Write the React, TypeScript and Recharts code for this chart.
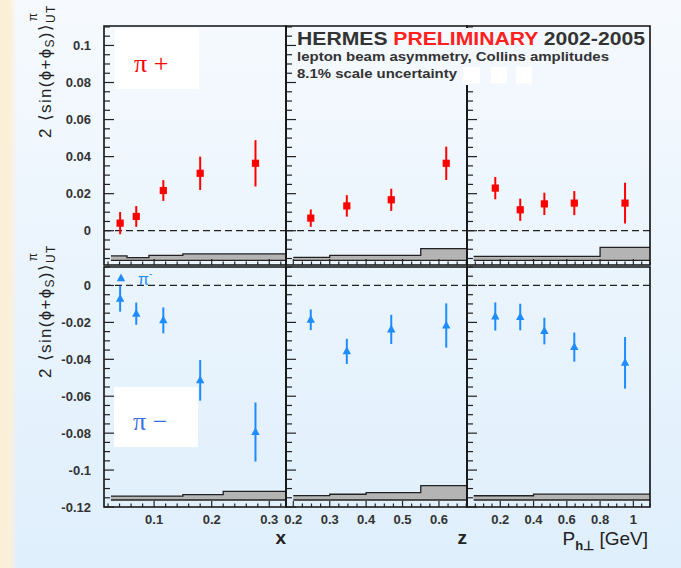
import React from 'react';
import { ComposedChart, Scatter, ErrorBar, Area, XAxis, YAxis, ReferenceLine, ReferenceArea } from 'recharts';

// bin centres
const xBins = [0.041, 0.069, 0.116, 0.18, 0.276];
const zBins = [0.248, 0.347, 0.469, 0.62];
const pBins = [0.17, 0.32, 0.465, 0.645, 0.95];

// pi+ amplitudes
const plusX = [0.0041, 0.0077, 0.0217, 0.031, 0.0364];
const plusXErr = [0.006, 0.0056, 0.0056, 0.009, 0.0125];
const plusZ = [0.0068, 0.0134, 0.0167, 0.0364];
const plusZErr = [0.0047, 0.0058, 0.006, 0.009];
const plusP = [0.023, 0.0113, 0.0145, 0.0149, 0.0149];
const plusPErr = [0.006, 0.006, 0.006, 0.0065, 0.011];

// pi- amplitudes
const minusX = [-0.0072, -0.0153, -0.0189, -0.0514, -0.0794];
const minusXErr = [0.007, 0.006, 0.007, 0.011, 0.016];
const minusZ = [-0.0186, -0.0357, -0.0238, -0.0217];
const minusZErr = [0.0056, 0.0068, 0.0079, 0.012];
const minusP = [-0.0168, -0.0171, -0.0247, -0.0334, -0.0419];
const minusPErr = [0.0076, 0.0072, 0.0072, 0.0079, 0.014];

// systematic bands (bin edges + band tops, drawn up from a base level)
const xEdges = [0.025, 0.053, 0.091, 0.15, 0.22, 0.329];
const zEdges = [0.2, 0.3, 0.4, 0.55, 0.677];
const pEdges = [0.04, 0.4, 0.8, 1.1];
const sysPlusX = [-0.0136, -0.0145, -0.0133, -0.0125, -0.0125];
const sysPlusZ = [-0.0144, -0.0133, -0.0133, -0.0097];
const sysPlusP = [-0.0138, -0.0138, -0.009];
const sysMinusX = [-0.1141, -0.1141, -0.1141, -0.1133, -0.1115];
const sysMinusZ = [-0.1138, -0.1131, -0.1122, -0.1084];
const sysMinusP = [-0.1139, -0.113, -0.113];
const basePlus = -0.016;
const baseMinus = -0.1162;

// axes
const xDomain = [0.013, 0.329];
const zDomain = [0.18, 0.677];
const pDomain = [0, 1.1];
const topDomain = [-0.0185, 0.1105];
const bottomDomain = [-0.12, 0.01];
const xMajor = [0.1, 0.2, 0.3];
const zMajor = [0.2, 0.3, 0.4, 0.5, 0.6];
const pMajor = [0.2, 0.4, 0.6, 0.8, 1];
const topMajor = [0, 0.02, 0.04, 0.06, 0.08, 0.1];
const bottomMajor = [0, -0.02, -0.04, -0.06, -0.08, -0.1, -0.12];

const steps = (from: number, to: number, step: number) => {
  const out: number[] = [];
  for (let v = from; v <= to + 1e-9; v += step) out.push(Number(v.toFixed(4)));
  return out;
};
const xTicks = steps(0.02, 0.32, 0.02);
const zTicks = steps(0.2, 0.675, 0.025);
const pTicks = steps(0.05, 1.1, 0.05);
const topTicks = steps(-0.015, 0.11, 0.005);
const bottomTicks = steps(-0.12, 0.01, 0.005);

const RED = '#ff0000';
const BLUE = '#1e8cff';
const INK = '#222';
const LABEL = '#333';
const FONT = '"Liberation Sans", Arial, sans-serif';

const isMajor = (v: number, majors: number[]) => majors.some(m => Math.abs(m - v) < 1e-6);
const fmt = (v: number) => String(Number(v.toFixed(3)));

const points = (bins: number[], vals: number[], errs: number[]) =>
  bins.map((v, i) => ({ v, y: vals[i], err: errs[i] }));
const band = (edges: number[], tops: number[], base: number) =>
  edges.map((v, i) => ({ v, band: [base, tops[Math.min(i, tops.length - 1)]] }));

const Square = (p: any) => <rect x={p.cx - 3.6} y={p.cy - 3.6} width={7.2} height={7.2} fill={RED} />;
const Triangle = (p: any) => (
  <polygon points={`${p.cx},${p.cy - 4.8} ${p.cx - 4.2},${p.cy + 3} ${p.cx + 4.2},${p.cy + 3}`} fill={BLUE} />
);

type PanelProps = {
  left: number; top: number; w: number; h: number;
  xDom: number[]; yDom: number[];
  xMaj: number[]; xAll: number[]; yMaj: number[]; yAll: number[];
  yLabels: boolean; xLabels: boolean;
  data: { v: number; y: number; err: number }[];
  sys: { v: number; band: number[] }[];
  color: string; plus: boolean;
};

const ML = 70, MT = 10, MR = 10, MB = 40;

function Panel(pp: PanelProps) {
  const yTick = (p: any) => {
    const v = p.payload.value;
    const maj = isMajor(v, pp.yMaj);
    return (
      <g>
        <line x1={p.x} x2={p.x + (maj ? 10 : 6)} y1={p.y} y2={p.y} stroke={INK} strokeWidth={1.2} />
        {pp.yLabels && maj && (
          <text x={p.x - 13} y={p.y} dy="0.36em" textAnchor="end" fontSize={13} fontWeight="bold" fill={LABEL} fontFamily={FONT}>
            {fmt(v)}
          </text>
        )}
      </g>
    );
  };
  const xTick = (p: any) => {
    const v = p.payload.value;
    const maj = isMajor(v, pp.xMaj);
    return (
      <g>
        <line x1={p.x} x2={p.x} y1={p.y} y2={p.y - (maj ? 6 : 3.5)} stroke={INK} strokeWidth={1.2} />
        {pp.xLabels && maj && (
          <text x={p.x} y={p.y + 17} textAnchor="middle" fontSize={13} fontWeight="bold" fill={LABEL} fontFamily={FONT}>
            {fmt(v)}
          </text>
        )}
      </g>
    );
  };
  return (
    <div style={{ position: 'absolute', left: pp.left - ML, top: pp.top - MT }}>
      <ComposedChart width={pp.w + ML + MR} height={pp.h + MT + MB} data={pp.sys} margin={{ top: MT, right: MR, bottom: MB - 1, left: ML - 1 }}>
        <XAxis type="number" dataKey="v" domain={pp.xDom} allowDataOverflow ticks={pp.xAll} interval={0} height={1}
          tickSize={0} tickMargin={0} tickLine={false} axisLine={false} tick={xTick} />
        <YAxis type="number" domain={pp.yDom} allowDataOverflow ticks={pp.yAll} interval={0} width={1}
          tickSize={0} tickMargin={0} tickLine={false} axisLine={false} tick={yTick} />
        <Area type="stepAfter" dataKey="band" fill="#b4b4b4" fillOpacity={1} stroke={INK} strokeWidth={1.3} isAnimationActive={false} dot={false} activeDot={false} />
        <ReferenceLine y={0} stroke={INK} strokeWidth={1.2} strokeDasharray="7 4" />
        <Scatter data={pp.data} dataKey="y" shape={pp.plus ? Square : Triangle} isAnimationActive={false}>
          <ErrorBar dataKey="err" direction="y" width={0} stroke={pp.color} strokeWidth={2} isAnimationActive={false} />
        </Scatter>
        <ReferenceArea x1={pp.xDom[0]} x2={pp.xDom[1]} y1={pp.yDom[0]} y2={pp.yDom[1]} fill="none" stroke="#111" strokeWidth={1.6} ifOverflow="visible" />
      </ComposedChart>
    </div>
  );
}

const cols = [
  { left: 104, w: 182, dom: xDomain, maj: xMajor, all: xTicks },
  { left: 286, w: 181, dom: zDomain, maj: zMajor, all: zTicks },
  { left: 467, w: 183, dom: pDomain, maj: pMajor, all: pTicks },
];

export default function App() {
  const topData = [points(xBins, plusX, plusXErr), points(zBins, plusZ, plusZErr), points(pBins, plusP, plusPErr)];
  const topSys = [band(xEdges, sysPlusX, basePlus), band(zEdges, sysPlusZ, basePlus), band(pEdges, sysPlusP, basePlus)];
  const botData = [points(xBins, minusX, minusXErr), points(zBins, minusZ, minusZErr), points(pBins, minusP, minusPErr)];
  const botSys = [band(xEdges, sysMinusX, baseMinus), band(zEdges, sysMinusZ, baseMinus), band(pEdges, sysMinusP, baseMinus)];

  const yTitle = (x: number, y: number) => (
    <text transform={`rotate(-90 ${x} ${y})`} x={x} y={y} fontSize={17} fill={INK} fontFamily={FONT} letterSpacing={1.3}>
      2 ⟨sin(ϕ+ϕ<tspan fontSize={12} dy={3}>S</tspan>
      <tspan dy={-3}>)⟩</tspan>
      <tspan fontSize={12} dy={4}>UT</tspan>
      <tspan fontSize={12} dx={-17} dy={-18}>π</tspan>
    </text>
  );

  return (
    <div style={{
      position: 'absolute', left: 0, top: 0, width: 681, height: 568, overflow: 'hidden', fontFamily: FONT,
      background: 'linear-gradient(to right, #fcefd6 0px, #fcf0da 10px, rgba(252,240,218,0) 17px), linear-gradient(to bottom, #f6fafe 0%, #eaf4fd 50%, #dfeffc 100%)',
    }}>
      {cols.map((c, i) => (
        <Panel key={`t${i}`} left={c.left} top={26} w={c.w} h={239} xDom={c.dom} yDom={topDomain}
          xMaj={c.maj} xAll={c.all} yMaj={topMajor} yAll={topTicks} yLabels={i === 0} xLabels={false}
          data={topData[i]} sys={topSys[i]} color={RED} plus />
      ))}
      {cols.map((c, i) => (
        <Panel key={`b${i}`} left={c.left} top={267} w={c.w} h={240} xDom={c.dom} yDom={bottomDomain}
          xMaj={c.maj} xAll={c.all} yMaj={bottomMajor} yAll={bottomTicks} yLabels={i === 0} xLabels
          data={botData[i]} sys={botSys[i]} color={BLUE} plus={false} />
      ))}
      <div style={{ position: 'absolute', left: 459, top: 27.5, width: 189.5, height: 57, background: '#f3f8fe' }} />
      <svg width={681} height={568} style={{ position: 'absolute', left: 0, top: 0 }}>
        <rect x={463} y={67} width={17} height={16.5} fill="#fff" />
        <rect x={491} y={67} width={16} height={16.5} fill="#fff" />
        <rect x={516} y={67} width={16} height={16.5} fill="#fff" />
        <text x={297} y={45} fontSize={18.5} fontWeight="bold" fill={LABEL} fontFamily={FONT} textLength={348} lengthAdjust="spacingAndGlyphs">
          HERMES <tspan fill="#ff2020">PRELIMINARY</tspan> 2002-2005
        </text>
        <text x={297} y={61} fontSize={12.5} fontWeight="bold" fill={LABEL} fontFamily={FONT} textLength={312} lengthAdjust="spacingAndGlyphs">
          lepton beam asymmetry, Collins amplitudes
        </text>
        <text x={297} y={78} fontSize={12.5} fontWeight="bold" fill={LABEL} fontFamily={FONT} textLength={160} lengthAdjust="spacingAndGlyphs">
          8.1% scale uncertainty
        </text>

        <rect x={115} y={29} width={84} height={60} fill="#fff" />
        <text x={134} y={72} fontSize={26} fill={RED} fontFamily='"Liberation Serif", serif'>π +</text>
        <rect x={114} y={387} width={84} height={60} fill="#fff" />
        <text x={133} y={430} fontSize={26} fill="#3a6fe6" fontFamily='"Liberation Serif", serif'>π −</text>

        <polygon points="121,273.5 116.8,281.3 125.2,281.3" fill={BLUE} />
        <text x={138} y={285} fontSize={16} fill={BLUE} fontFamily={FONT}>π<tspan fontSize={10} dy={-8}>-</tspan></text>

        {yTitle(51, 138)}
        {yTitle(51, 378)}

        <text x={286} y={544} textAnchor="end" fontSize={19} fontWeight="bold" fill={INK} fontFamily={FONT}>x</text>
        <text x={467} y={544} textAnchor="end" fontSize={19} fontWeight="bold" fill={INK} fontFamily={FONT}>z</text>
        <text x={648} y={545} textAnchor="end" fontSize={19} fill={INK} fontFamily={FONT}>
          P<tspan fontSize={13} fontWeight="bold" dy={5}>h⊥</tspan><tspan dy={-5}> [GeV]</tspan>
        </text>
      </svg>
    </div>
  );
}
